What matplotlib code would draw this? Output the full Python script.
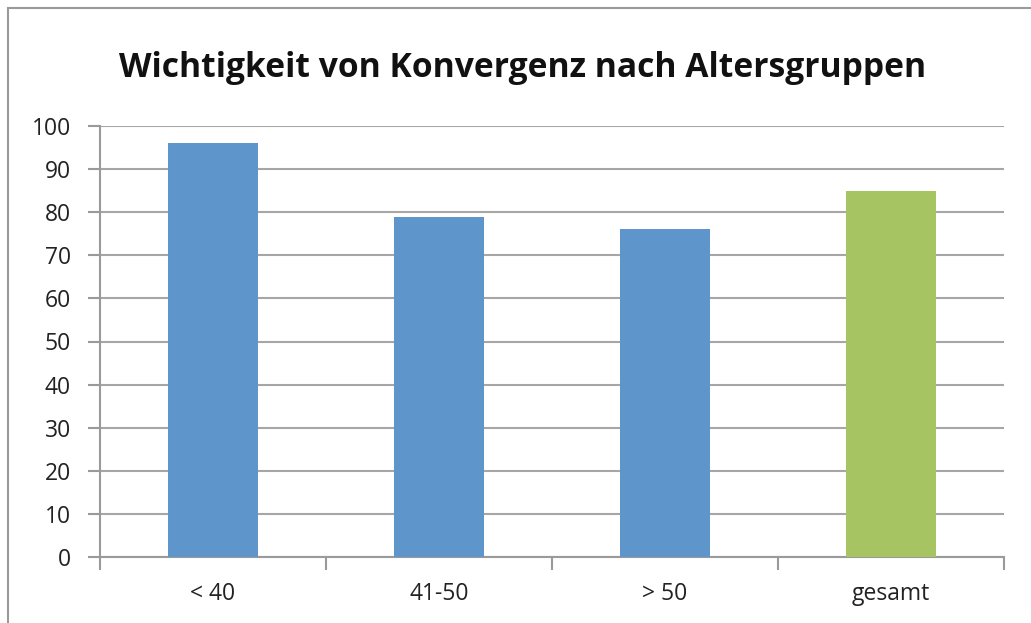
# Chart: Wichtigkeit von Konvergenz nach Altersgruppen

import numpy as np
import matplotlib.pyplot as plt
from matplotlib.patches import Rectangle

plt.rcParams['font.family'] = ['Open Sans', 'DejaVu Sans']

# Data

categories = ['< 40', '41-50', '> 50', 'gesamt']
values = [96, 79, 76, 85]
bar_colors = ['#5E95CB', '#5E95CB', '#5E95CB', '#A6C462']
y_ticks = list(range(0, 101, 10))

# Figure

W, H = 1031, 623
fig = plt.figure(figsize=(W / 100, H / 100), dpi=100, facecolor='white')
ax = fig.add_axes([100 / W, (H - 557) / H, (1004 - 100) / W, (557 - 126) / H])

# outer chart border (cut off at right/bottom like the screenshot)
fig.patches.append(Rectangle((8 / W, -0.1), 1.2, (H - 8) / H + 0.1,
                             transform=fig.transFigure, fill=False,
                             edgecolor='#9a9a9a', linewidth=1.5))

x = np.arange(len(categories))
ax.bar(x, values, width=0.4, color=bar_colors, zorder=3)

ax.set_xlim(-0.5, len(categories) - 0.5)
ax.set_ylim(0, 100)
ax.set_yticks(y_ticks)
ax.yaxis.grid(True, color='#a6a6a6', linewidth=1.5, zorder=0)

# category labels centred, tick marks between categories
ax.set_xticks(x)
ax.set_xticklabels(categories, fontsize=16.5, color='#222222')
ax.tick_params(axis='x', length=0, pad=18)
ax.set_xticks(np.arange(-0.5, len(categories)), minor=True)
ax.tick_params(axis='x', which='minor', length=9, width=1.5, color='#9a9a9a')
ax.tick_params(axis='y', length=9, width=1.5, color='#9a9a9a',
               labelsize=16.5, labelcolor='#222222', pad=12)

for side in ['top', 'right']:
    ax.spines[side].set_visible(False)
ax.spines['left'].set_color('#9a9a9a')
ax.spines['bottom'].set_color('#9a9a9a')
ax.spines['left'].set_linewidth(1.5)
ax.spines['bottom'].set_linewidth(1.5)

fig.text(523 / W, (H - 68) / H, 'Wichtigkeit von Konvergenz nach Altersgruppen',
         ha='center', va='center', fontsize=24.2, fontweight='bold', color='#111111')

fig.savefig('out.png', dpi=100, facecolor='white')
